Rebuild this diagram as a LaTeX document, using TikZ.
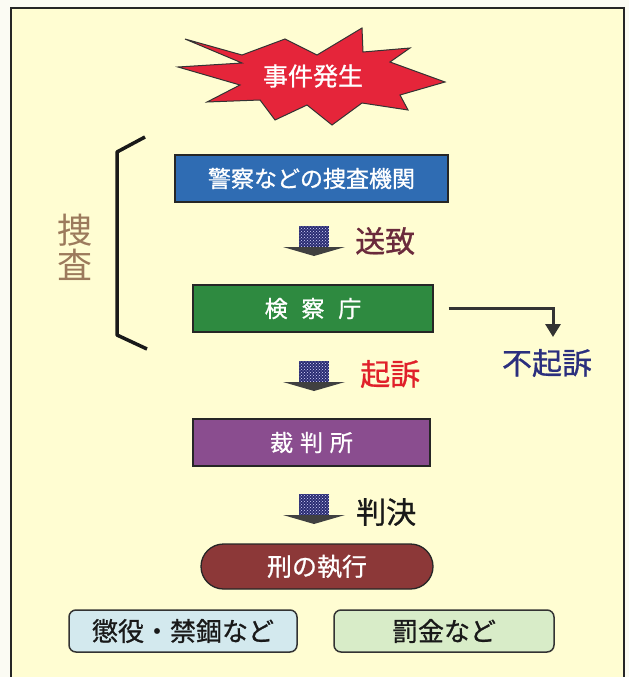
\documentclass[tikz,border=0pt]{standalone}
\usepackage{fontspec}
\setmainfont{Noto Sans CJK JP}
\newfontfamily\jpmid{Noto Sans CJK JP}[FakeBold=0.9]
\usetikzlibrary{patterns,arrows.meta}
\definecolor{outbg}{HTML}{FBFBF3}
\definecolor{bgyellow}{HTML}{FFFDD2}
\definecolor{starred}{HTML}{E5253A}
\definecolor{boxblue}{HTML}{2F6CB3}
\definecolor{boxgreen}{HTML}{2E8A40}
\definecolor{boxpurple}{HTML}{8A4D8F}
\definecolor{pillred}{HTML}{8C3838}
\definecolor{lightblue}{HTML}{D3E9EE}
\definecolor{lightgreen}{HTML}{D8ECC8}
\definecolor{tan}{HTML}{9C7A5C}
\definecolor{maroon}{HTML}{6A2A3C}
\definecolor{kisored}{HTML}{E0202A}
\definecolor{navytxt}{HTML}{2B2F7E}
\definecolor{arrownavy}{HTML}{2A2C72}
\tikzset{
  flowbox/.style={draw=black!85, line width=1.3, text=white, inner sep=0,
    font=\jpmid\fontsize{23}{25}\selectfont},
  endbox/.style={draw=black!80, line width=1.5, rounded corners=7, inner sep=0,
    minimum width=226, minimum height=42, text=black!90,
    font=\jpmid\fontsize{26}{28}\selectfont},
  steplabel/.style={font=\jpmid\fontsize{30}{32}\selectfont, inner sep=0},
}
\newcommand{\blockarr}[2]{%
  \fill[arrownavy, postaction={pattern=crosshatch dots, pattern color=white!85!blue}]
    (#1-15,#2) rectangle (#1+15,#2+21);
  \fill[black!75] (#1-31,#2+21) -- (#1+31,#2+21) -- (#1,#2+30) -- cycle;
}
\begin{document}
\begin{tikzpicture}[x=1pt,y=-1pt]
\useasboundingbox (0,0) rectangle (629,677);
\fill[outbg] (0,0) rectangle (629,677);
\draw[line width=2, black!85, fill=bgyellow] (11,690) -- (11,8) -- (624,8) -- (624,690);

% starburst
\draw[fill=starred, draw=black!80, line width=1, line join=miter]
  (185,39) -- (242,55) -- (285,39) -- (317,55) -- (362,28) -- (363,52) --
  (410,48) -- (390,62) -- (445,82) -- (400,95) -- (408,110) -- (362,103) --
  (332,125) -- (307,105) -- (275,120) -- (260,100) -- (207,102) -- (240,85) --
  (178,67) -- (242,63) -- cycle;
\node[text=white, inner sep=0, font=\jpmid\fontsize{25}{27}\selectfont] (jiken) at (313,76) {事件発生};

% bracket
\draw[line width=3.5, black!90, line join=round] (145,137) -- (117,152) -- (117,335) -- (147,349);
\node[text=tan, inner sep=0, font=\fontsize{35}{38}\selectfont, align=center] (sousa) at (75,247) {捜\\[-3pt]査};

% boxes
\node[flowbox, fill=boxblue, minimum width=273, minimum height=47] (keisatsu) at (311.5,178.5) {警察などの捜査機関};
\node[flowbox, fill=boxgreen, minimum width=240, minimum height=47] (kensatsu) at (313,308.5) {検\hspace{0.6em}察\hspace{0.6em}庁};
\node[flowbox, fill=boxpurple, minimum width=237, minimum height=47] (saiban) at (311.5,442.5) {裁\hspace{0.3em}判\hspace{0.3em}所};
\node[flowbox, fill=pillred, minimum width=232, minimum height=45, rounded corners=22.5,
  font=\jpmid\fontsize{25}{27}\selectfont] (kei) at (317,566.5) {刑の執行};
\node[endbox, fill=lightblue, minimum width=228] (choueki) at (183,631) {懲役・禁錮など};
\node[endbox, fill=lightgreen, minimum width=220] (bakkin) at (444,631) {罰金など};

% block arrows
\blockarr{314}{226}
\node[steplabel, text=maroon, anchor=west] (souchi) at (355,241) {送致};
\blockarr{314}{361}
\node[steplabel, text=kisored, anchor=west] (kiso) at (360,374) {起訴};
\blockarr{314}{494}
\node[steplabel, text=black!90, anchor=west] (hanketsu) at (356,512) {判決};

% fukiso
\node[steplabel, text=navytxt] (fukiso) at (547,363) {不起訴};
\coordinate (fkstart) at ([xshift=15pt]kensatsu.east);
\coordinate (fkend) at (553,337);
\draw[line width=3, black!80, -{Triangle[width=15pt,length=13pt]}] (fkstart) -| (fkend);
\end{tikzpicture}
\end{document}
